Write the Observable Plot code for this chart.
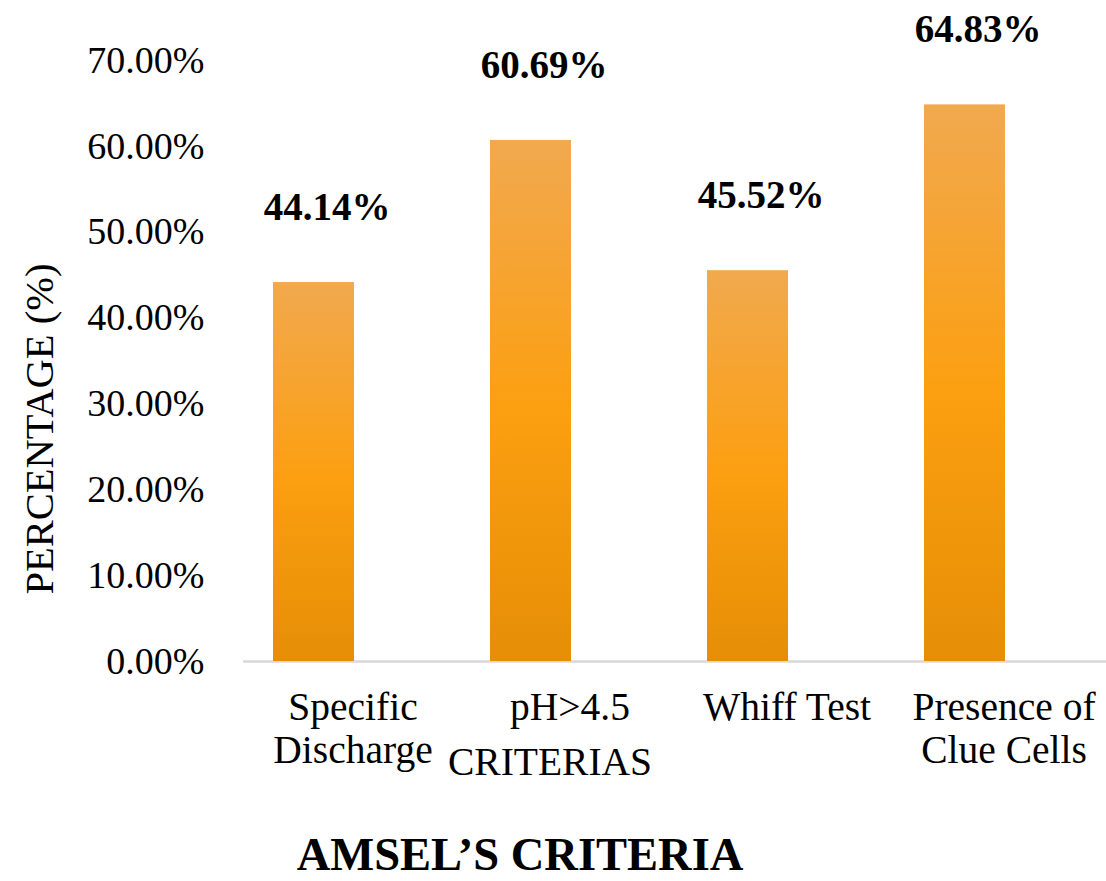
<!DOCTYPE html>
<html>
<head>
<meta charset="utf-8">
<script src="https://cdn.jsdelivr.net/npm/d3@7"></script>
<script src="https://cdn.jsdelivr.net/npm/@observablehq/plot@0.6"></script>
<style>
  html, body { margin: 0; padding: 0; background: #fff; }
  #chart svg { display: block; }
  #chart svg text { font-family: "Liberation Serif", "Times New Roman", Times, serif; }
</style>
</head>
<body>
<div id="chart"></div>
<script>
// Amsel's criteria: share of cases meeting each criterion
const categories = ["Specific\nDischarge", "pH>4.5", "Whiff Test", "Presence of\nClue Cells"];
const percentages = [44.14, 60.69, 45.52, 64.83];
const yTicks = [0, 10, 20, 30, 40, 50, 60, 70];
const yLabel = "PERCENTAGE (%)";
const xAxisLabel = "CRITERIAS";
const xTitle = "AMSEL’S CRITERIA";

const rows = categories.map((c, i) => ({category: c, value: percentages[i]}));
const pct = d => d.toFixed(2) + "%";
const serif = "Liberation Serif";

const chart = Plot.plot({
  width: 1106,
  height: 881,
  marginTop: 60,
  marginBottom: 220,
  marginLeft: 243,
  marginRight: 0,
  style: {color: "#000", background: "#fff"},
  x: {type: "band", domain: categories, range: [243, 1035], paddingInner: 0.628, paddingOuter: 0.131},
  y: {domain: [0, 70]},
  marks: [
    Plot.ruleY([0], {stroke: "#d9d9d9", strokeWidth: 2.4}),
    Plot.barY(rows, {
      x: "category",
      y: "value",
      fill: "url(#barGradient)",
      style: "filter: url(#barShadow)"
    }),
    // value labels above the bars
    Plot.text(rows, {
      x: "category",
      y: "value",
      text: d => pct(d.value),
      dx: 13,
      dy: -75,
      fontSize: 39,
      fontWeight: "bold",
      fontFamily: serif,
      fill: "#000"
    }),
    Plot.axisY({
      ticks: yTicks,
      tickFormat: pct,
      tickSize: 0,
      tickPadding: 39,
      fontSize: 38,
      fontFamily: serif,
      label: null
    }),
    Plot.axisX({
      tickSize: 0,
      tickPadding: 27,
      dx: 39,
      fontSize: 39.5,
      fontFamily: serif,
      lineHeight: 1.11,
      label: null
    }),
    // axis titles
    Plot.text([xAxisLabel], {
      frameAnchor: "bottom",
      textAnchor: "middle",
      lineAnchor: "middle",
      dx: -125,
      dy: 101,
      fontSize: 39.5,
      fontFamily: serif,
      fill: "#000"
    }),
    Plot.text([yLabel], {
      frameAnchor: "left",
      textAnchor: "middle",
      lineAnchor: "middle",
      rotate: -90,
      dx: -203,
      dy: 68,
      fontSize: 40.5,
      fontFamily: serif,
      fill: "#000"
    }),
    Plot.text([xTitle], {
      frameAnchor: "bottom",
      textAnchor: "middle",
      lineAnchor: "middle",
      dx: -155,
      dy: 194,
      fontSize: 46.5,
      fontWeight: "bold",
      fontFamily: serif,
      fill: "#000"
    })
  ]
});

// Vertical orange gradient and soft shadow for the bars
const defs = d3.select(chart).insert("defs", ":first-child");
const grad = defs.append("linearGradient")
  .attr("id", "barGradient")
  .attr("x1", 0).attr("y1", 0).attr("x2", 0).attr("y2", 1);
[["0%", "#f1a94f"], ["52%", "#fc9f10"], ["100%", "#e58e06"]].forEach(([o, c]) =>
  grad.append("stop").attr("offset", o).attr("stop-color", c));
const shadow = defs.append("filter")
  .attr("id", "barShadow")
  .attr("x", "-20%").attr("y", "-5%").attr("width", "140%").attr("height", "110%");
shadow.append("feDropShadow")
  .attr("dx", 0).attr("dy", 2)
  .attr("stdDeviation", 3)
  .attr("flood-color", "#000")
  .attr("flood-opacity", 0.35);

document.getElementById("chart").appendChild(chart);
</script>
</body>
</html>
